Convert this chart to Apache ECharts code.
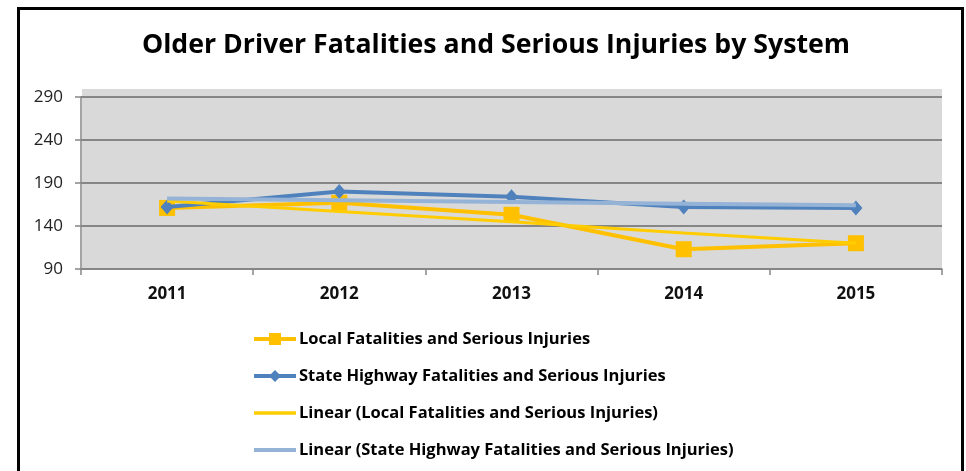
<!DOCTYPE html>
<html>
<head>
<meta charset="utf-8">
<script src="https://cdn.jsdelivr.net/npm/echarts@6/dist/echarts.min.js"></script>
<style>
  html, body { margin: 0; padding: 0; background: #fff; }
  #chart { width: 966px; height: 471px; }
</style>
</head>
<body>
<div id="chart"></div>
<script>
// Years on the category axis
const years = ['2011', '2012', '2013', '2014', '2015'];

// Yearly counts by road system
const localValues = [161, 167, 153, 113, 120];
const stateValues = [162, 180, 174, 162, 161];

// Linear trend lines as plotted for each system
const localTrend = [169, 157, 145, 132, 120];
const stateTrend = [172, 170, 168, 166, 164];

// Value axis range and step
const yMin = 90;
const yMax = 290;
const yStep = 50;

const seriesNames = [
  'Local Fatalities and Serious Injuries',
  'State Highway Fatalities and Serious Injuries',
  'Linear (Local Fatalities and Serious Injuries)',
  'Linear (State Highway Fatalities and Serious Injuries)'
];

const COLORS = {
  local: '#ffc000',
  state: '#4f81bd',
  localTrend: '#ffcc00',
  stateTrend: '#95b3d7'
};

const FONT = '"Open Sans", Lato, sans-serif';
const chart = echarts.init(document.getElementById('chart'), null, { renderer: 'canvas' });

chart.setOption({
  animation: false,
  backgroundColor: '#ffffff',
  title: {
    text: 'Older Driver Fatalities and Serious Injuries by System',
    left: 491,
    textAlign: 'center',
    top: 27,
    textStyle: { fontFamily: FONT, fontSize: 26.7, fontWeight: 'bold', color: '#000' }
  },
  graphic: [
    {
      type: 'rect', z: -10, silent: true,
      shape: { x: 82, y: 89, width: 860, height: 180 },
      style: { fill: '#d9d9d9' }
    },
    {
      type: 'rect', z: 100, silent: true,
      shape: { x: 18.5, y: 8.5, width: 944, height: 490 },
      style: { fill: 'none', stroke: '#000', lineWidth: 3 }
    }
  ],
  grid: { left: 81, right: 24, top: 97, bottom: 202, containLabel: false },
  legend: {
    orient: 'vertical',
    left: 252,
    top: 329,
    padding: 0,
    itemWidth: 42,
    itemHeight: 15,
    itemGap: 17,
    textStyle: { fontFamily: FONT, fontSize: 16.5, fontWeight: 'bold', color: '#000', lineHeight: 20, padding: [0, 0, 0, -2] },
    data: [
      { name: seriesNames[0], lineStyle: { width: 4 } },
      { name: seriesNames[1], lineStyle: { width: 4 } },
      { name: seriesNames[2], icon: 'path://M0,0 L42,0 L42,3.5 L0,3.5 Z' },
      { name: seriesNames[3], icon: 'path://M0,0 L42,0 L42,4 L0,4 Z' }
    ]
  },
  xAxis: {
    type: 'category',
    data: years,
    boundaryGap: true,
    axisLine: { lineStyle: { color: '#868686', width: 1.5 } },
    axisTick: { show: true, length: 6, alignWithLabel: false, lineStyle: { color: '#868686', width: 1.5 } },
    axisLabel: { fontFamily: FONT, fontSize: 17, fontWeight: 'bold', color: '#111', margin: 17 },
    splitLine: { show: false }
  },
  yAxis: {
    type: 'value',
    min: yMin,
    max: yMax,
    interval: yStep,
    axisLine: { show: true, lineStyle: { color: '#868686', width: 1.5 } },
    axisTick: { show: true, length: 6, lineStyle: { color: '#868686', width: 1.5 } },
    axisLabel: { fontFamily: FONT, fontSize: 17, color: '#222', margin: 18 },
    splitLine: { show: true, lineStyle: { color: '#868686', width: 2 } }
  },
  series: [
    {
      name: seriesNames[0],
      type: 'line',
      data: localValues,
      symbol: 'rect',
      symbolSize: 16,
      lineStyle: { color: COLORS.local, width: 4 },
      itemStyle: { color: COLORS.local },
      z: 3
    },
    {
      name: seriesNames[1],
      type: 'line',
      data: stateValues,
      symbol: 'diamond',
      symbolSize: [13, 15],
      lineStyle: { color: COLORS.state, width: 4 },
      itemStyle: { color: COLORS.state },
      z: 4
    },
    {
      name: seriesNames[2],
      type: 'line',
      data: localTrend,
      symbol: 'none',
      lineStyle: { color: COLORS.localTrend, width: 3 },
      itemStyle: { color: COLORS.localTrend },
      z: 5
    },
    {
      name: seriesNames[3],
      type: 'line',
      data: stateTrend,
      symbol: 'none',
      lineStyle: { color: COLORS.stateTrend, width: 4 },
      itemStyle: { color: COLORS.stateTrend },
      z: 6
    }
  ]
});
</script>
</body>
</html>
